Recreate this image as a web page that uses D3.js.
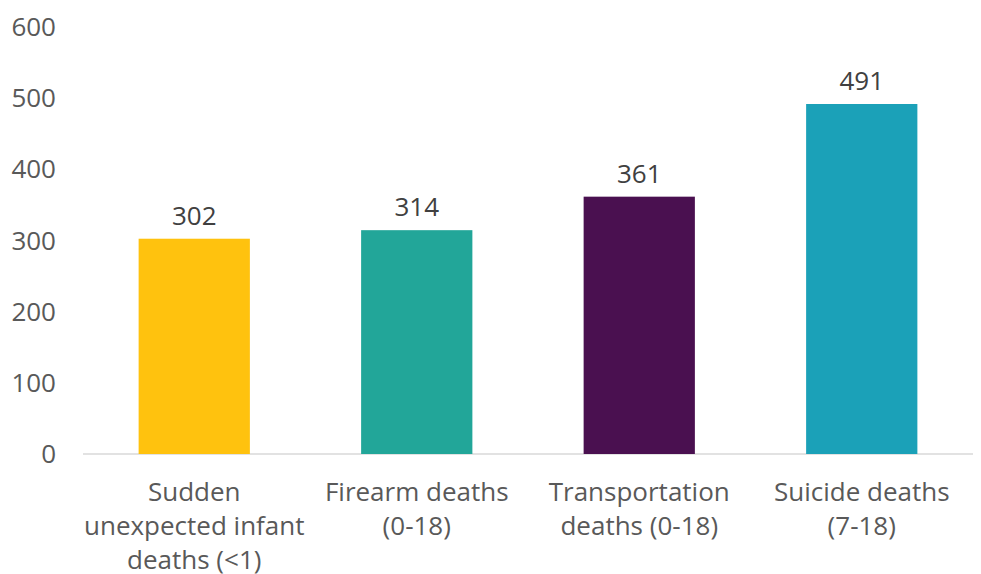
<!DOCTYPE html>
<html>
<head>
<meta charset="utf-8">
<script src="https://cdn.jsdelivr.net/npm/d3@7"></script>
<style>
  body { margin: 0; background: #fff; }
  text { font-family: "Open Sans", sans-serif; }
</style>
</head>
<body>
<div id="chart"></div>
<script>
var categories = [
    ["Sudden", "unexpected infant", "deaths (<1)"],
    ["Firearm deaths", "(0-18)"],
    ["Transportation", "deaths (0-18)"],
    ["Suicide deaths", "(7-18)"]
];
var values = [302, 314, 361, 491];
var colors = ["#FFC20E", "#22A699", "#4A1050", "#1BA1B8"];
var yTicks = [0, 100, 200, 300, 400, 500, 600];

var width = 981, height = 574;
var plotLeft = 83, plotRight = 973, plotTop = 26.3, plotBottom = 454;
var fontSize = 26;

var svg = d3.select("#chart").append("svg")
    .attr("width", width)
    .attr("height", height);

var x = d3.scaleBand()
    .domain(d3.range(values.length))
    .range([plotLeft, plotRight])
    .paddingInner(0.5)
    .paddingOuter(0.25);

var y = d3.scaleLinear().domain([0, 600]).range([plotBottom, plotTop]);

// baseline
svg.append("line")
    .attr("x1", plotLeft).attr("x2", plotRight)
    .attr("y1", plotBottom).attr("y2", plotBottom)
    .attr("stroke", "#d9d9d9")
    .attr("stroke-width", 1.3);

// y tick labels
svg.selectAll(".ytick").data(yTicks).enter().append("text")
    .attr("class", "ytick")
    .attr("x", 56)
    .attr("y", function(d){ return y(d); })
    .attr("dy", "0.36em")
    .attr("text-anchor", "end")
    .attr("font-size", fontSize)
    .attr("fill", "#595959")
    .text(function(d){ return d; });

// bars
svg.selectAll(".bar").data(values).enter().append("rect")
    .attr("class", "bar")
    .attr("x", function(d, i){ return x(i); })
    .attr("width", x.bandwidth())
    .attr("y", function(d){ return y(d); })
    .attr("height", function(d){ return plotBottom - y(d); })
    .attr("fill", function(d, i){ return colors[i]; });

// value labels
svg.selectAll(".val").data(values).enter().append("text")
    .attr("class", "val")
    .attr("x", function(d, i){ return x(i) + x.bandwidth() / 2; })
    .attr("y", function(d){ return y(d) - 14; })
    .attr("text-anchor", "middle")
    .attr("font-size", fontSize)
    .attr("fill", "#404040")
    .text(function(d){ return d; });

// category labels
var cat = svg.selectAll(".cat").data(categories).enter().append("text")
    .attr("class", "cat")
    .attr("text-anchor", "middle")
    .attr("font-size", fontSize)
    .attr("fill", "#595959");
cat.selectAll("tspan").data(function(d, i){
        return d.map(function(s){ return {s: s, i: i}; });
    }).enter().append("tspan")
    .attr("x", function(d){ return x(d.i) + x.bandwidth() / 2; })
    .attr("y", function(d, j){ return 501 + j * 34; })
    .text(function(d){ return d.s; });
</script>
</body>
</html>
